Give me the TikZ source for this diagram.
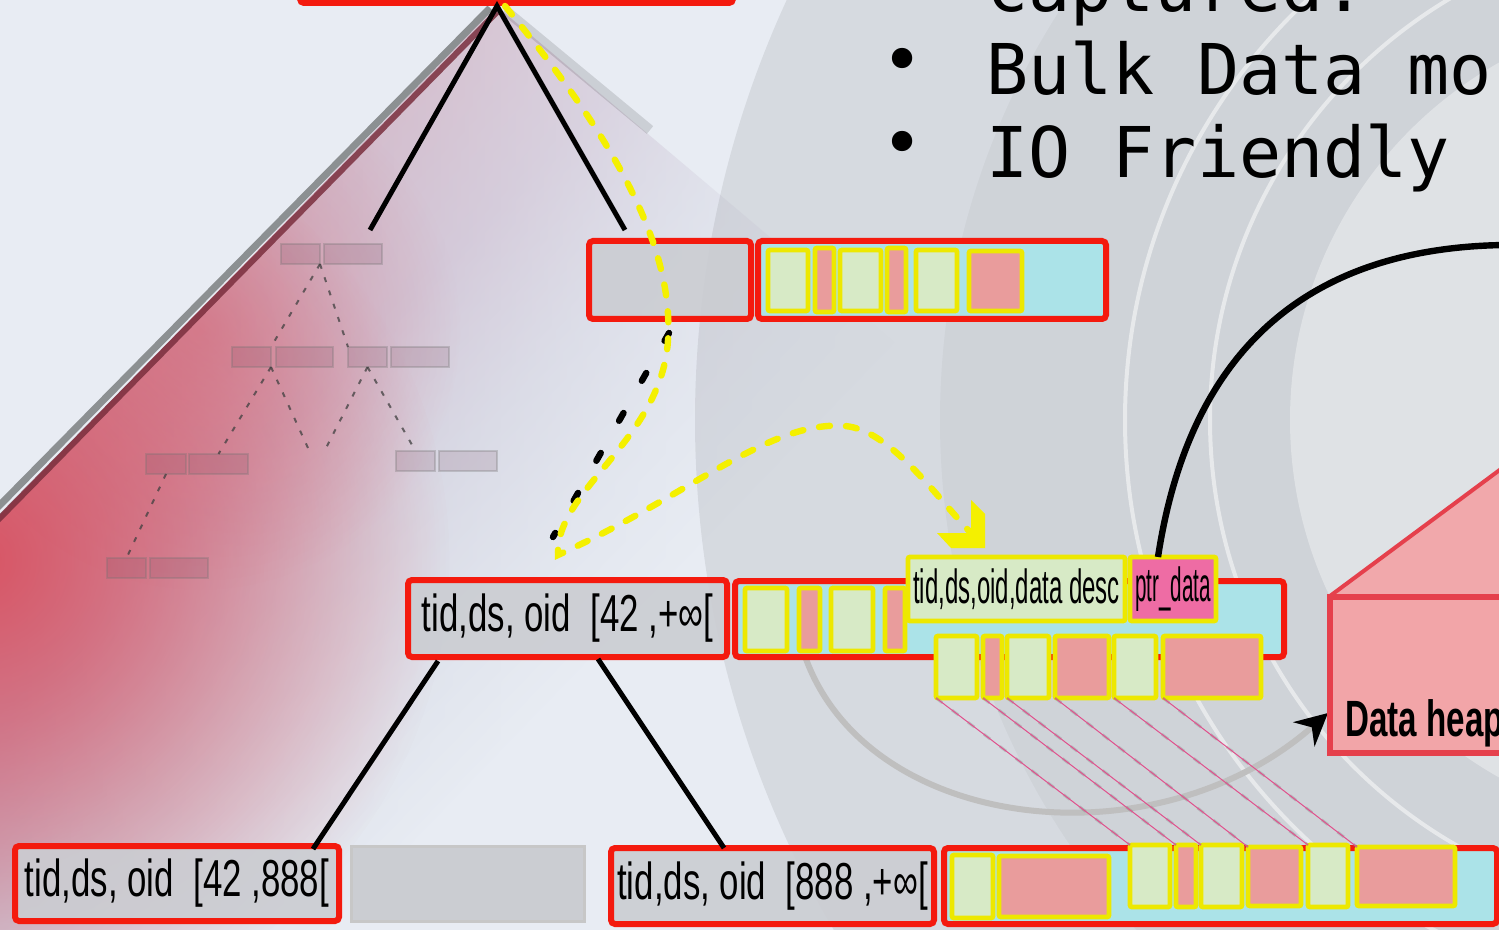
\documentclass[tikz,border=0pt]{standalone}
\usepackage{fontspec}
\usetikzlibrary{fit,arrows.meta,fadings}
\newfontfamily\condA{Liberation Sans}[FakeStretch=0.67]
\newfontfamily\condB{Liberation Sans}[FakeStretch=0.5]
\newfontfamily\condC{Liberation Sans}[FakeStretch=0.43]
\newfontfamily\heapfont{Liberation Sans}[FakeStretch=0.65]
\newfontfamily\monof{DejaVu Sans Mono}
\definecolor{bg}{HTML}{E8ECF3}
\definecolor{boxred}{HTML}{F41A0E}
\definecolor{keygray}{HTML}{CBCDD2}
\definecolor{cyanf}{HTML}{ABE3E8}
\definecolor{lgreen}{HTML}{D7EAC6}
\definecolor{lpink}{HTML}{E99C9C}
\definecolor{yel}{HTML}{EDE800}
\definecolor{dyel}{HTML}{F4F000}
\definecolor{ptrpink}{HTML}{EE6CA4}
\definecolor{heapfill}{HTML}{F2A5A8}
\definecolor{heapedge}{HTML}{E5404C}
\definecolor{trired}{HTML}{DA4D5C}
\definecolor{bandgray}{HTML}{8C9092}
\definecolor{banddark}{HTML}{7A2F3E}
\definecolor{hatchpink}{HTML}{E0508C}
\definecolor{tc1}{HTML}{C8A2B7}
\definecolor{tc2}{HTML}{C4AEC5}
\definecolor{tc3}{HTML}{CDCBDA}
\definecolor{tc4}{HTML}{DCE0EA}
\pgfdeclareverticalshading{trishade}{100bp}{color(0bp)=(bg); color(39.5bp)=(bg); color(44.5bp)=(tc4); color(52bp)=(tc3); color(59.5bp)=(tc2); color(67bp)=(tc1); color(100bp)=(tc1)}
\tikzfading[name=redfade, inner color=transparent!0, outer color=transparent!100]
\tikzfading[name=rightfade, left color=transparent!0, middle color=transparent!10, right color=transparent!100]
\newcommand{\mybox}[7][]{\node[#2, minimum width={(#5-#3)*0.5pt}, minimum height={(#6-#4)*0.5pt}, inner sep=0pt, outer sep=0pt] (#7) at ({(#3+#5)/2},{(#4+#6)/2}) {#1};}
\begin{document}
\begin{tikzpicture}[x=0.5pt,y=-0.5pt,
  redbox/.style={draw=boxred, line width=3pt, rounded corners=2pt},
  keybox/.style={redbox, fill=keygray, fill opacity=0.9, text opacity=1},
  leafbox/.style={redbox, fill=cyanf},
  ybox/.style={draw=yel, line width=2.4pt, rounded corners=1pt},
  gbox/.style={ybox, fill=lgreen},
  pbox/.style={ybox, fill=lpink},
  emptybox/.style={draw=black!22, fill=keygray, line width=1.5pt},
  ghost/.style={draw=black!55, draw opacity=0.3, fill=black!60!magenta, fill opacity=0.16, line width=1pt},
  ghostlink/.style={draw=black!75, line width=1pt, dash pattern=on 2.5pt off 4.5pt, opacity=0.75},
  treeline/.style={draw=black, line width=2.5pt},
  ydash/.style={draw=dyel, line width=3.2pt, line cap=round, dash pattern=on 5.5pt off 8pt},
  kdash/.style={draw=black, line width=3.2pt, line cap=round, dash pattern=on 4.5pt off 18.5pt},
  hatchg/.style={draw=black!50, line width=1.4pt, dash pattern=on 4pt off 6pt, opacity=0.35},
  hatchp/.style={draw=hatchpink, line width=0.5pt},
  keytext/.style={font=\condA\fontsize{26}{30}\selectfont},
  bigmono/.style={font=\monof\fontsize{35}{40}\selectfont, inner sep=0pt}
]
\useasboundingbox (0,0) rectangle (1499,930);
\clip (0,0) rectangle (1499,930);
\fill[bg] (0,0) rectangle (1499,930);
% triangle
\shade[shading=trishade, shading angle=46, path fading=rightfade] (497,5) -- (0,515) -- (0,930) -- (1000,930) -- (1000,430) -- cycle;
\begin{scope}
\clip (497,5) -- (0,515) -- (0,930) -- (1000,930) -- (1000,430) -- cycle;
\fill[trired, path fading=redfade, opacity=0.9] (-20,560) circle (470);
\fill[trired, path fading=redfade, opacity=0.35] (200,330) circle (260);
\end{scope}
% background rings
\fill[black, opacity=0.075] (1700,420) circle (1005);
\fill[black, opacity=0.03] (1700,420) circle (760);
\draw[white, line width=2pt, opacity=0.5] (1700,420) circle (575);
\draw[white, line width=2pt, opacity=0.5] (1700,420) circle (490);
\fill[white, opacity=0.35] (1700,420) circle (410);
% triangle edge bands
\draw[bandgray, line width=3.5pt] (-5,510) -- (490,8);
\draw[banddark, line width=3pt, opacity=0.85] (-5,523) -- (497,12);
\draw[black, opacity=0.12, line width=5pt] (505,10) -- (650,130);
% ghost tree
\mybox{ghost}{281}{244}{320}{264}{g1a}
\mybox{ghost}{324}{244}{382}{264}{g1b}
\mybox{ghost}{232}{347}{271}{367}{g2a}
\mybox{ghost}{276}{347}{333}{367}{g2b}
\mybox{ghost}{348}{347}{387}{367}{g2c}
\mybox{ghost}{391}{347}{449}{367}{g2d}
\mybox{ghost}{146}{454}{186}{474}{g3a}
\mybox{ghost}{189}{454}{248}{474}{g3b}
\mybox{ghost}{396}{451}{435}{471}{g3c}
\mybox{ghost}{439}{451}{497}{471}{g3d}
\mybox{ghost}{107}{558}{146}{578}{g4a}
\mybox{ghost}{150}{558}{208}{578}{g4b}
\coordinate (gf1) at (308,448);
\coordinate (gf2) at (325,450);
\draw[ghostlink] (g1a.south east) -- (g2a.north east);
\draw[ghostlink] (g1a.south east) -- (g2c.north west);
\draw[ghostlink] (g2a.south east) -- (g3b.north);
\draw[ghostlink] (g2a.south east) -- (gf1);
\draw[ghostlink] (g2c.south) -- (gf2);
\draw[ghostlink] (g2c.south) -- (g3c.north);
\draw[ghostlink] (g3a.south) -- (g4a.north);
% root and tree lines
\node[redbox, fit={(300,-30) (733,3)}, inner sep=0pt] (root) {};
\coordinate (rootapex) at (497,6);
\coordinate (lc) at (370,230);
\coordinate (rc) at (625,230);
\draw[treeline] (lc) -- (rootapex) -- (rc);
% gray arc to heap
\coordinate (arcstart) at (800,640);
\coordinate (heapin) at (1328,713);
\draw[black!25, line width=3pt, -{Stealth[black, length=16pt, width=16pt]}] (arcstart) .. controls (850,830) and (1150,870) .. (heapin);
% top level boxes
\mybox{keybox}{589}{241}{751}{319}{ik}
\mybox{leafbox}{758}{241}{1106}{319}{tl}
\mybox{gbox}{768}{250}{808}{311}{t1}
\mybox{pbox}{815}{248}{834}{312}{t2}
\mybox{gbox}{840}{250}{881}{311}{t3}
\mybox{pbox}{887}{248}{906}{312}{t4}
\mybox{gbox}{916}{250}{957}{311}{t5}
\mybox{pbox}{969}{251}{1022}{311}{t6}
% middle level
\mybox[{tid,ds, oid~~[42 ,+∞[}]{keybox, keytext}{408}{580}{727}{657}{k2}
\mybox{leafbox}{735}{581}{1284}{657}{ml}
\mybox{gbox}{745}{588}{787}{651}{m1}
\mybox{pbox}{799}{588}{820}{651}{m2}
\mybox{gbox}{831}{588}{873}{651}{m3}
\mybox{pbox}{885}{588}{905}{651}{m4}
\mybox[{\condB\fontsize{24}{28}\selectfont tid,ds,oid,data desc}]{gbox}{908}{557}{1125}{621}{lab}
\mybox[{\condC\fontsize{24}{28}\selectfont ptr\_data}]{ybox, fill=ptrpink}{1130}{557}{1216}{621}{ptr}
\mybox{gbox}{936}{636}{977}{698}{l1}
\mybox{pbox}{983}{636}{1002}{698}{l2}
\mybox{gbox}{1007}{636}{1049}{698}{l3}
\mybox{pbox}{1055}{636}{1109}{698}{l4}
\mybox{gbox}{1114}{636}{1156}{698}{l5}
\mybox{pbox}{1163}{636}{1261}{698}{l6}
% bottom level
\mybox[{tid,ds, oid~~[42 ,888[}]{keybox, keytext}{15}{846}{339}{921}{k3}
\mybox{emptybox}{351}{846}{584}{921}{e3}
\mybox[{tid,ds, oid~~[888 ,+∞[}]{keybox, keytext}{611}{848}{934}{924}{k4}
\mybox{leafbox}{944}{848}{1497}{924}{bl}
\mybox{gbox}{952}{855}{993}{918}{bl1}
\mybox{pbox}{999}{856}{1109}{917}{bl2}
\mybox{gbox}{1130}{845}{1170}{907}{b1}
\mybox{pbox}{1176}{845}{1196}{907}{b2}
\mybox{gbox}{1201}{845}{1242}{907}{b3}
\mybox{pbox}{1248}{847}{1301}{906}{b4}
\mybox{gbox}{1308}{845}{1348}{907}{b5}
\mybox{pbox}{1357}{847}{1455}{906}{b6}
% tree lines middle
\coordinate (k2a) at (438,661);
\coordinate (k2b) at (598,659);
\coordinate (k3t) at (313,849);
\coordinate (k4t) at (724,848);
\draw[treeline] (k2a) -- (k3t);
\draw[treeline] (k2b) -- (k4t);
% hatch lines
\foreach \a/\b in {l1/b1,l2/b2,l3/b3,l4/b4,l5/b5,l6/b6}{
  \draw[hatchg] (\a.south west) -- (\b.north west);
  \draw[hatchp] (\a.south west) -- (\b.north west);
}
% data heap
\fill[heapfill, opacity=0.95] (1330,596) -- (1505,466) -- (1510,466) -- (1510,596) -- cycle;
\draw[heapedge, line width=2pt] (1330,596) -- (1505,466);
\node[draw=heapedge, fill=heapfill, line width=3pt, fit={(1330,597) (1530,753)}, inner sep=0pt] (heap) {};
\node[font=\heapfont\bfseries\fontsize{25.5}{30}\selectfont, anchor=base west, inner sep=0pt] (heaplabel) at (1345,736) {Data heap};
% pointer curve
\coordinate (ptrtop) at (1158,557);
\coordinate (curveend) at (1505,245);
\draw[black, line width=3.2pt] (ptrtop) .. controls (1185,380) and (1280,248) .. (curveend);
% dashed paths
\coordinate (kd1) at (669,333);
\coordinate (kd2) at (553,537);
\draw[kdash] (kd1) -- (kd2);
\coordinate (ys) at (505,6);
\coordinate (ye) at (970,532);
\draw[ydash] (ys) .. controls (590,110) and (675,230) .. (668,340) .. controls (662,440) and (555,490) .. (558,555) .. controls (690,495) and (770,420) .. (845,426) .. controls (890,430) and (935,495) .. (ye);
\fill[dyel] (937,533) -- (971,533) -- (971,500) -- (985,514) -- (985,548) -- (951,548) -- cycle;
% top text
\node[bigmono, anchor=base west] (cap) at (986,12) {captured:};
\node[bigmono, anchor=base west] (bulk) at (986,95) {Bulk Data mo};
\node[bigmono, anchor=base west] (io) at (986,178) {IO Friendly};
\node[bigmono, anchor=center] (bu1) at (903,66) {•};
\node[bigmono, anchor=center] (bu2) at (903,149) {•};
\end{tikzpicture}
\end{document}
